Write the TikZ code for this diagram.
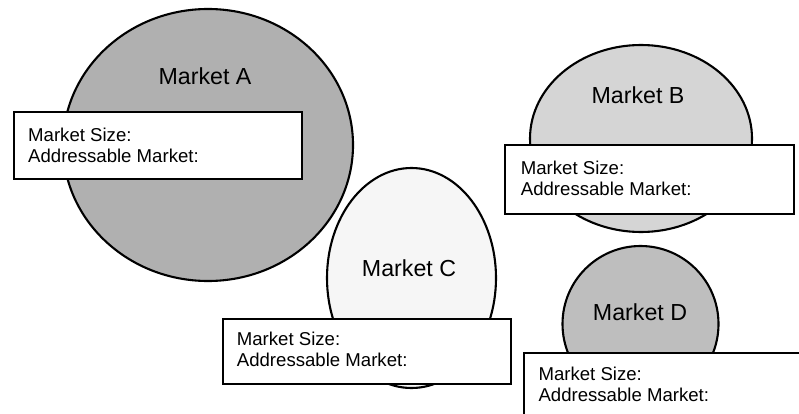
\documentclass[tikz,border=0pt]{standalone}
\usepackage{fontspec}
\setmainfont{Liberation Sans}
\usetikzlibrary{shapes.geometric}

\definecolor{fillA}{RGB}{176,176,176}
\definecolor{fillB}{RGB}{213,213,213}
\definecolor{fillC}{RGB}{246,246,246}
\definecolor{fillD}{RGB}{190,190,190}

\tikzset{
  market/.style={ellipse, draw=black, line width=2.1pt, inner sep=0pt},
  title/.style={font=\fontsize{23.2}{27}\selectfont, inner sep=0pt},
  infobox/.style={rectangle, draw=black, fill=white, line width=2.1pt,
    anchor=north west, inner sep=0pt, minimum width=288pt, minimum height=67pt},
  % anchored on the baseline of the second (last) line
  info/.style={anchor=base west, inner sep=0pt, align=left,
    font=\fontsize{18.6}{21}\selectfont},
}

\begin{document}
\begin{tikzpicture}[x=1pt, y=-1pt]
  \useasboundingbox (0,0) rectangle (799,414);
  \clip (0,0) rectangle (799,414);

  % Market A
  \node[market, fill=fillA, minimum width=290pt, minimum height=272pt] (mA) at (208,145) {};
  \node[title] (tA) at (205,76) {Market A};
  \node[infobox] (bA) at (13,111) {};
  \node[info] (iA) at (28,162.7) {Market Size:\\Addressable Market:};

  % Market B
  \node[market, fill=fillB, minimum width=222pt, minimum height=187pt] (mB) at (641,138.5) {};
  \node[title] (tB) at (638,95.5) {Market B};
  \node[infobox, minimum width=289pt, minimum height=69pt] (bB) at (504,144) {};
  \node[info] (iB) at (520.7,195.7) {Market Size:\\Addressable Market:};

  % Market C
  \node[market, fill=fillC, minimum width=169pt, minimum height=220pt] (mC) at (411.5,278) {};
  \node[title] (tC) at (409,268) {Market C};
  \node[infobox, minimum height=65pt] (bC) at (222,318) {};
  \node[info] (iC) at (236.7,366.7) {Market Size:\\Addressable Market:};

  % Market D
  \node[market, fill=fillD, minimum width=156pt, minimum height=156pt] (mD) at (640.5,324) {};
  \node[title] (tD) at (640,312.5) {Market D};
  \node[infobox, minimum width=300pt, minimum height=80pt] (bD) at (523,352) {};
  \node[info] (iD) at (538.3,401) {Market Size:\\Addressable Market:};
\end{tikzpicture}
\end{document}
